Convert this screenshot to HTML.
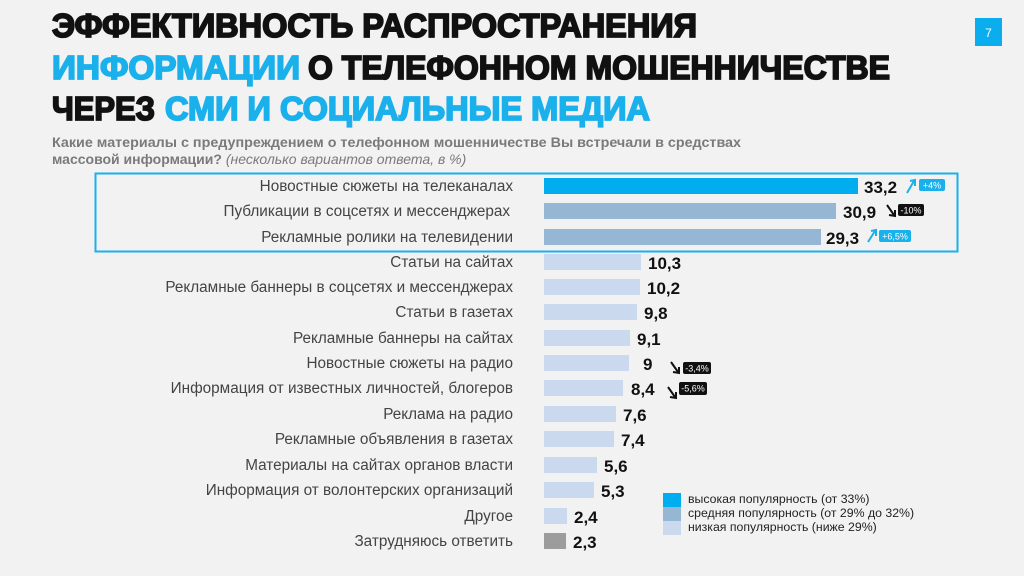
<!DOCTYPE html>
<html><head><meta charset="utf-8"><style>
html,body{margin:0;padding:0;background:#f2f2f2;}
svg{display:block;}
</style></head><body>
<svg width="1024" height="576" viewBox="0 0 1024 576" xmlns="http://www.w3.org/2000/svg" font-family="Liberation Sans, sans-serif">
<rect width="1024" height="576" fill="#f2f2f2"/>
<g font-family="Liberation Sans Narrow, Liberation Sans, sans-serif" font-weight="bold" font-size="33" stroke-width="1.8">
<text x="52" y="37" fill="#111" stroke="#111" textLength="645" lengthAdjust="spacingAndGlyphs">ЭФФЕКТИВНОСТЬ РАСПРОСТРАНЕНИЯ</text>
<text x="52" y="79" fill="#1ab0ec" stroke="#1ab0ec" textLength="248" lengthAdjust="spacingAndGlyphs">ИНФОРМАЦИИ</text>
<text x="308" y="79" fill="#111" stroke="#111" textLength="582" lengthAdjust="spacingAndGlyphs">О ТЕЛЕФОННОМ МОШЕННИЧЕСТВЕ</text>
<text x="52" y="120" fill="#111" stroke="#111" textLength="103" lengthAdjust="spacingAndGlyphs">ЧЕРЕЗ</text>
<text x="165" y="120" fill="#1ab0ec" stroke="#1ab0ec" textLength="485" lengthAdjust="spacingAndGlyphs">СМИ И СОЦИАЛЬНЫЕ МЕДИА</text>
</g>
<rect x="975" y="18" width="27" height="28" fill="#0aaeef"/>
<text x="988.5" y="37" fill="#fff" font-size="12" text-anchor="middle">7</text>
<g font-family="Liberation Sans Narrow, Liberation Sans, sans-serif" font-size="14" fill="#7a7a7a">
<text x="52" y="147" font-weight="bold" textLength="689" lengthAdjust="spacingAndGlyphs">Какие материалы с предупреждением о телефонном мошенничестве Вы встречали в средствах</text>
<text x="52" y="164"><tspan font-weight="bold">массовой информации?</tspan> <tspan font-style="italic">(несколько вариантов ответа, в %)</tspan></text>
</g>
<rect x="95.5" y="173.5" width="862" height="78" fill="none" stroke="#1ab0ec" stroke-width="2"/>
<g font-size="15.3" fill="#444" text-anchor="end">
<text x="513" y="191">Новостные сюжеты на телеканалах</text>
<text x="510" y="216">Публикации в соцсетях и мессенджерах</text>
<text x="513" y="242">Рекламные ролики на телевидении</text>
<text x="513" y="267">Статьи на сайтах</text>
<text x="513" y="292">Рекламные баннеры в соцсетях и мессенджерах</text>
<text x="513" y="317">Статьи в газетах</text>
<text x="513" y="343">Рекламные баннеры на сайтах</text>
<text x="513" y="368">Новостные сюжеты на радио</text>
<text x="513" y="393">Информация от известных личностей, блогеров</text>
<text x="513" y="419">Реклама на радио</text>
<text x="513" y="444">Рекламные объявления в газетах</text>
<text x="513" y="470">Материалы на сайтах органов власти</text>
<text x="513" y="495">Информация от волонтерских организаций</text>
<text x="513" y="521">Другое</text>
<text x="513" y="546">Затрудняюсь ответить</text>
</g>
<g>
<rect x="544" y="178" width="314" height="16" fill="#00aeef"/>
<rect x="544" y="203" width="292" height="16" fill="#96b7d3"/>
<rect x="544" y="229" width="277" height="16" fill="#96b7d3"/>
<rect x="544" y="254" width="97" height="16" fill="#cbd9ee"/>
<rect x="544" y="279" width="96" height="16" fill="#cbd9ee"/>
<rect x="544" y="304" width="93" height="16" fill="#cbd9ee"/>
<rect x="544" y="330" width="86" height="16" fill="#cbd9ee"/>
<rect x="544" y="355" width="85" height="16" fill="#cbd9ee"/>
<rect x="544" y="380" width="79" height="16" fill="#cbd9ee"/>
<rect x="544" y="406" width="72" height="16" fill="#cbd9ee"/>
<rect x="544" y="431" width="70" height="16" fill="#cbd9ee"/>
<rect x="544" y="457" width="53" height="16" fill="#cbd9ee"/>
<rect x="544" y="482" width="50" height="16" fill="#cbd9ee"/>
<rect x="544" y="508" width="23" height="16" fill="#cbd9ee"/>
<rect x="544" y="533" width="22" height="16" fill="#9c9c9c"/>
</g>
<g font-size="17" font-weight="bold" fill="#111">
<text x="864" y="193">33,2</text>
<text x="843" y="218">30,9</text>
<text x="826" y="244">29,3</text>
<text x="648" y="269">10,3</text>
<text x="647" y="294">10,2</text>
<text x="644" y="319">9,8</text>
<text x="637" y="345">9,1</text>
<text x="643" y="370">9</text>
<text x="631" y="395">8,4</text>
<text x="623" y="421">7,6</text>
<text x="621" y="446">7,4</text>
<text x="604" y="472">5,6</text>
<text x="601" y="497">5,3</text>
<text x="574" y="523">2,4</text>
<text x="573" y="548">2,3</text>
</g>
<g stroke-width="2" fill="none">
<path d="M907 193 L914 181" stroke="#1ab0ec"/><path d="M910 181 L915 180 L915 186" stroke="#1ab0ec"/>
<path d="M887 205 L894 215" stroke="#111"/><path d="M889 215 L895 216 L895 210" stroke="#111"/>
<path d="M868 242 L875 231" stroke="#1ab0ec"/><path d="M871 231 L876 230 L876 236" stroke="#1ab0ec"/>
<path d="M671 362 L678 372" stroke="#111"/><path d="M673 372 L679 373 L679 367" stroke="#111"/>
<path d="M668 387 L675 397" stroke="#111"/><path d="M670 397 L676 398 L676 392" stroke="#111"/>
</g>
<g font-size="9" fill="#fff" text-anchor="middle">
<rect x="919" y="179" width="26" height="12" rx="2" fill="#1ab0ec"/><text x="932" y="188.5">+4%</text>
<rect x="898" y="204" width="26" height="12" rx="2" fill="#111"/><text x="911" y="213.5">-10%</text>
<rect x="879" y="230" width="32" height="12" rx="2" fill="#1ab0ec"/><text x="895" y="239.5">+6,5%</text>
<rect x="683" y="362" width="28" height="12" rx="2" fill="#111"/><text x="697" y="371.5">-3,4%</text>
<rect x="679" y="382" width="28" height="13" rx="2" fill="#111"/><text x="693" y="391.5">-5,6%</text>
</g>
<rect x="663" y="493" width="18" height="14" fill="#00aeef"/>
<rect x="663" y="507" width="18" height="14" fill="#96b7d3"/>
<rect x="663" y="521" width="18" height="14" fill="#cbd9ee"/>
<g font-size="12.3" fill="#222">
<text x="688" y="503">высокая популярность (от 33%)</text>
<text x="688" y="517">средняя популярность (от 29% до 32%)</text>
<text x="688" y="531">низкая популярность (ниже 29%)</text>
</g>
</svg>
</body></html>
